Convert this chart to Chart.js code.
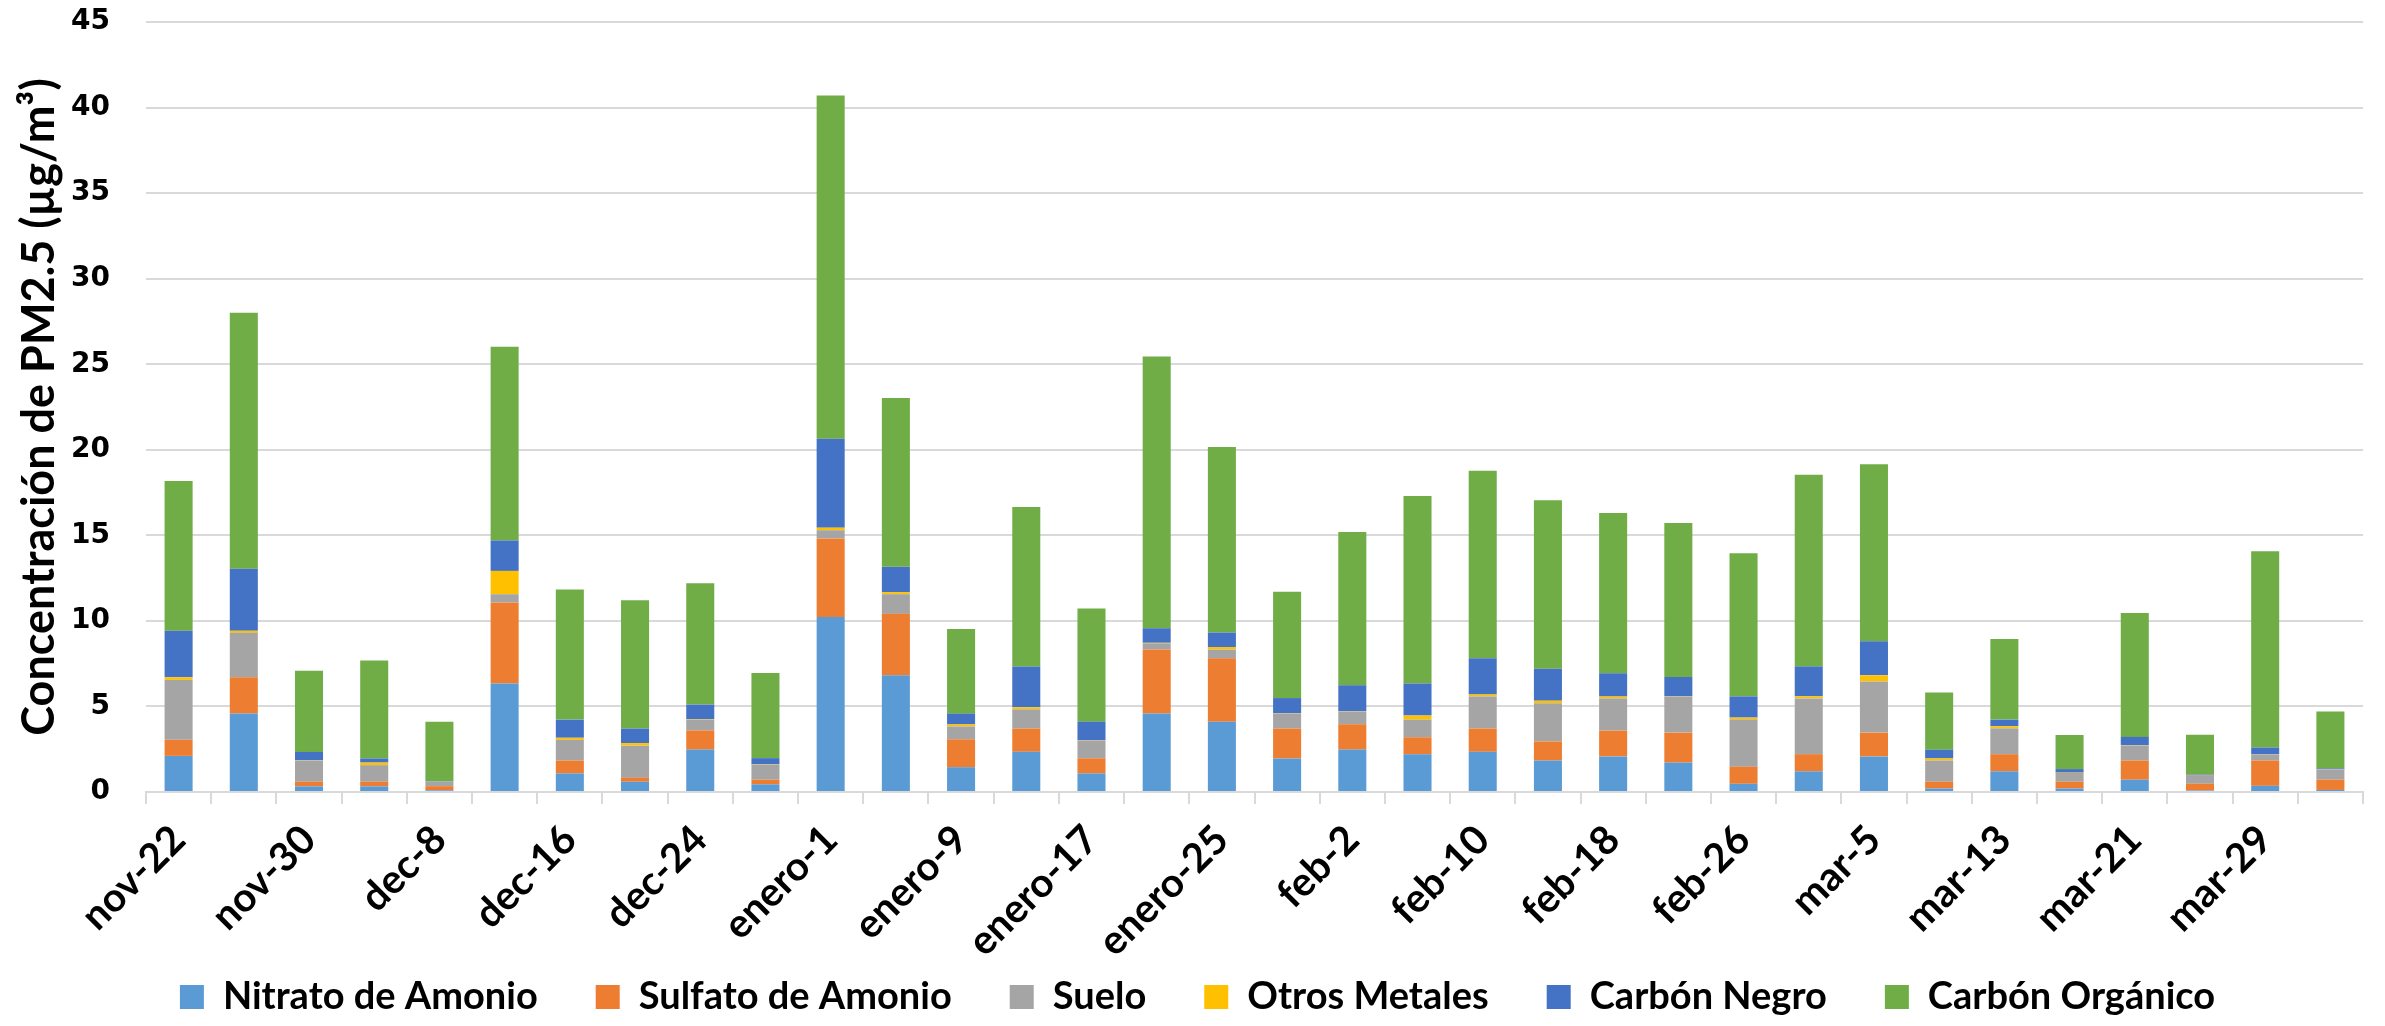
<!DOCTYPE html>
<html lang="es">
<head>
<meta charset="utf-8">
<title>PM2.5</title>
<script src="https://cdn.jsdelivr.net/npm/chart.js@4.4.1/dist/chart.umd.min.js"></script>
<style>
    html, body { margin: 0; padding: 0; background: #ffffff; }
    #wrap { width: 2385px; height: 1026px; position: relative; }
</style>
</head>
<body>
<div id="wrap"><canvas id="pmChart"></canvas></div>
<script>
/* ============================================================
   PM2.5 composición por fecha (barras apiladas)
   ============================================================ */

const fechas = [
    'nov-22', 'nov-26', 'nov-30', 'dec-4', 'dec-8', 'dec-12', 'dec-16', 'dec-20',
    'dec-24', 'dec-28', 'enero-1', 'enero-5', 'enero-9', 'enero-13', 'enero-17', 'enero-21',
    'enero-25', 'enero-29', 'feb-2', 'feb-6', 'feb-10', 'feb-14', 'feb-18', 'feb-22',
    'feb-26', 'mar-1', 'mar-5', 'mar-9', 'mar-13', 'mar-17', 'mar-21', 'mar-25',
    'mar-29', 'abr-2',
];

const nitratoAmonio = [
    2.11, 4.59, 0.33, 0.33, 0.10, 6.34, 1.09, 0.60, 2.48, 0.45, 10.23, 6.82, 1.45, 2.35, 1.09, 4.59,
    4.10, 1.96, 2.48, 2.20, 2.35, 1.84, 2.08, 1.72, 0.48, 1.21, 2.08, 0.21, 1.21, 0.21, 0.72, 0.09,
    0.36, 0.12,
];
const sulfatoAmonio = [
    0.94, 2.11, 0.27, 0.27, 0.24, 4.74, 0.75, 0.24, 1.12, 0.27, 4.59, 3.59, 1.63, 1.36, 0.88, 3.74,
    3.71, 1.75, 1.48, 1.00, 1.36, 1.12, 1.51, 1.75, 1.00, 1.00, 1.39, 0.39, 1.00, 0.39, 1.12, 0.39,
    1.48, 0.60,
];
const suelo = [
    3.50, 2.60, 1.24, 0.97, 0.27, 0.48, 1.21, 1.87, 0.63, 0.88, 0.48, 1.15, 0.75, 1.12, 1.03, 0.36,
    0.51, 0.88, 0.75, 1.03, 1.87, 2.23, 1.87, 2.11, 2.75, 3.26, 2.99, 1.24, 1.51, 0.51, 0.88, 0.51,
    0.36, 0.60,
];
const otrosMetales = [
    0.15, 0.12, 0.02, 0.15, 0.00, 1.36, 0.12, 0.15, 0.03, 0.02, 0.15, 0.12, 0.12, 0.12, 0.02, 0.03,
    0.15, 0.02, 0.02, 0.24, 0.12, 0.15, 0.12, 0.02, 0.12, 0.12, 0.36, 0.12, 0.12, 0.02, 0.02, 0.01,
    0.01, 0.01,
];
const carbonNegro = [
    2.72, 3.62, 0.48, 0.24, 0.02, 1.78, 1.06, 0.85, 0.85, 0.36, 5.19, 1.48, 0.63, 2.38, 1.09, 0.85,
    0.85, 0.88, 1.51, 1.87, 2.11, 1.87, 1.36, 1.12, 1.24, 1.75, 1.99, 0.51, 0.39, 0.21, 0.48, 0.03,
    0.39, 0.05,
];
const carbonOrganico = [
    8.75, 14.97, 4.74, 5.73, 3.47, 11.32, 7.61, 7.49, 7.09, 4.98, 20.07, 9.87, 4.95, 9.33, 6.61, 15.88,
    10.84, 6.22, 8.96, 10.96, 10.96, 9.84, 9.36, 9.00, 8.36, 11.20, 10.35, 3.35, 4.71, 1.99, 7.24, 2.32,
    11.47, 3.32,
];

const yTicks = [0, 5, 10, 15, 20, 25, 30, 35, 40, 45];

const colors = {
    nitrato: '#5B9BD5',
    sulfato: '#ED7D31',
    suelo: '#A5A5A5',
    otros: '#FFC000',
    negro: '#4472C4',
    organico: '#70AD47',
    grid: '#d9d9d9',
    text: '#000000',
};

const series = [
    { label: 'Nitrato de Amonio', data: nitratoAmonio, color: colors.nitrato },
    { label: 'Sulfato de Amonio', data: sulfatoAmonio, color: colors.sulfato },
    { label: 'Suelo', data: suelo, color: colors.suelo },
    { label: 'Otros Metales', data: otrosMetales, color: colors.otros },
    { label: 'Carbón Negro', data: carbonNegro, color: colors.negro },
    { label: 'Carbón Orgánico', data: carbonOrganico, color: colors.organico },
];

// nudge the legend a little to the right, like the original
const legendShift = {
    id: 'legendShift',
    afterLayout(chart) {
        if (!chart.legend) return;
        chart.legend.left += 10;
        chart.legend.right += 10;
    },
};

const ctx = document.getElementById('pmChart').getContext('2d');

new Chart(ctx, {
    type: 'bar',
    data: {
        labels: fechas,
        datasets: series.map(s => ({
            label: s.label,
            data: s.data,
            backgroundColor: s.color,
            borderWidth: 0,
            categoryPercentage: 1,
            barPercentage: 0.43,
        })),
    },
    plugins: [legendShift],
    options: {
        responsive: true,
        maintainAspectRatio: false,
        animation: false,
        layout: {
            padding: { left: 12, right: 22, top: 22, bottom: 0 },
        },
        plugins: {
            tooltip: { enabled: false },
            legend: {
                position: 'bottom',
                labels: {
                    color: colors.text,
                    font: { family: 'Lato', weight: 'bold', size: 38 },
                    boxWidth: 24,
                    boxHeight: 24,
                    padding: 58,
                },
            },
        },
        scales: {
            x: {
                stacked: true,
                afterFit: s => {
                    // fixed axis band; labels may run past it (no clipping)
                    s.paddingLeft = 0;
                    s.paddingRight = 0;
                    s.height = 128;
                    s._computeLabelArea = () => undefined;
                },
                grid: {
                    offset: true,
                    drawOnChartArea: false,
                    drawTicks: true,
                    tickLength: 12,
                    color: colors.grid,
                    lineWidth: 2,
                },
                border: { display: true, color: colors.grid, width: 2 },
                ticks: {
                    autoSkip: false,
                    maxRotation: 45,
                    minRotation: 45,
                    padding: 12,
                    color: colors.text,
                    font: { family: 'Lato', weight: 'bold', size: 40 },
                    callback: (v, i) => (i % 2 === 0 ? fechas[i] : ''),
                },
            },
            y: {
                stacked: true,
                min: yTicks[0],
                max: yTicks[yTicks.length - 1],
                afterBuildTicks: axis => { axis.ticks = yTicks.map(v => ({ value: v })); },
                afterFit: s => {
                    s.paddingTop = 0;
                    s.paddingBottom = 0;
                    s.width = 134;
                },
                grid: { color: colors.grid, lineWidth: 2, drawTicks: false },
                border: { display: false },
                ticks: {
                    color: colors.text,
                    padding: 36,
                    font: { family: 'DejaVu Sans', weight: 'bold', size: 28 },
                },
                title: {
                    display: true,
                    text: 'Concentración de PM2.5 (µg/m³)',
                    color: colors.text,
                    font: { family: 'Lato', weight: 'bold', size: 45 },
                    padding: { top: 0, bottom: 8 },
                },
            },
        },
    },
});
</script>
</body>
</html>
